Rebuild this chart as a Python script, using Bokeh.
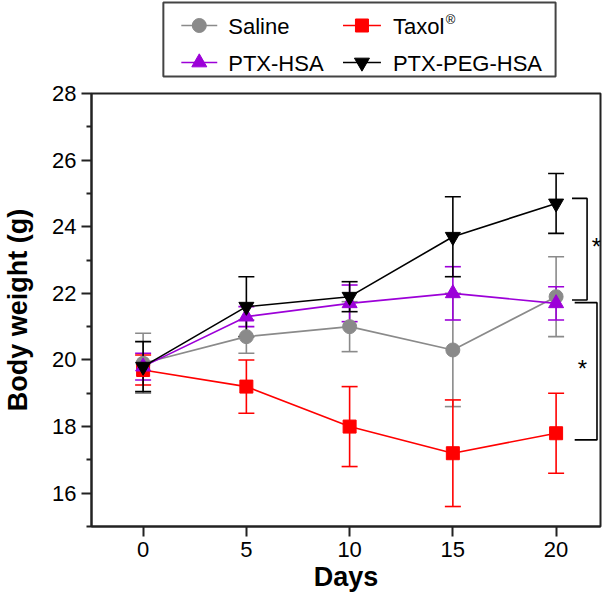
from bokeh.plotting import figure
from bokeh.layouts import column
from bokeh.models import ColumnDataSource, Whisker, TeeHead, FixedTicker, Range1d
from bokeh.core.properties import value
from bokeh.embed import file_html
from bokeh.resources import INLINE

# ---- data ----
days = [0, 5, 10, 15, 20]
saline = [19.9, 20.7, 21.0, 20.3, 21.9]
saline_err = [0.9, 0.5, 0.75, 1.7, 1.2]
taxol = [19.7, 19.2, 18.0, 17.2, 17.8]
taxol_err = [0.45, 0.8, 1.2, 1.6, 1.2]
ptx_hsa = [19.8, 21.3, 21.7, 22.0, 21.7]
ptx_hsa_err = [0.4, 0.3, 0.55, 0.8, 0.5]
ptx_peg_hsa = [19.8, 21.6, 21.9, 23.7, 24.7]
ptx_peg_hsa_err = [0.75, 0.9, 0.45, 1.2, 0.9]

series_names = ["Saline", "Taxol", "PTX-HSA", "PTX-PEG-HSA"]
y_ticks = [16, 18, 20, 22, 24, 26, 28]
y_minor = [15, 17, 19, 21, 23, 25, 27]
x_ticks = [0, 5, 10, 15, 20]

# significance brackets (data units): x_left, x_right, y_top, y_bottom, star_x, star_y
brackets = [
    (20.77, 21.5, 24.85, 21.8, 21.95, 23.4),
    (20.9, 21.98, 21.72, 17.6, 21.27, 19.75),
]

FONT = "Liberation Sans"
W = 603
LH = 78
BL, BR = 90, 3

p = figure(width=W, height=516, output_backend="svg", toolbar_location=None,
           x_range=Range1d(-2.5, 22.15), y_range=Range1d(15, 28),
           min_border_left=BL, min_border_right=BR, min_border_top=15, min_border_bottom=66)
p.grid.visible = False
p.outline_line_color = "#222222"
p.outline_line_width = 2
p.background_fill_color = "white"
p.border_fill_color = "white"

for ax in (p.xaxis[0], p.yaxis[0]):
    ax.axis_line_width = 2
    ax.axis_line_color = "#222222"
    ax.major_tick_line_width = 2
    ax.major_tick_line_color = "#222222"
    ax.minor_tick_line_width = 2
    ax.minor_tick_line_color = "#222222"
    ax.major_tick_in = 0
    ax.major_tick_out = 10
    ax.minor_tick_in = 0
    ax.minor_tick_out = 5
    ax.major_label_text_font = FONT
    ax.major_label_text_font_size = "22px"
    ax.major_label_text_color = "black"
    ax.axis_label_text_font = FONT
    ax.axis_label_text_font_size = "27px"
    ax.axis_label_text_font_style = "bold"
    ax.axis_label_text_color = "black"

p.xaxis.ticker = FixedTicker(ticks=x_ticks, minor_ticks=[])
p.yaxis.ticker = FixedTicker(ticks=y_ticks, minor_ticks=y_minor)
p.xaxis.axis_label = "Days"
p.yaxis.axis_label = "Body weight (g)"
p.xaxis.major_label_standoff = 5
p.yaxis.major_label_standoff = 5
p.yaxis.axis_label_standoff = 16
p.xaxis.axis_label_standoff = 2

specs = [
    (saline, saline_err, "#8a8a8a", "circle"),
    (taxol, taxol_err, "#ff0000", "square"),
    (ptx_hsa, ptx_hsa_err, "#9c00d8", "triangle"),
    (ptx_peg_hsa, ptx_peg_hsa_err, "#000000", "inverted_triangle"),
]

def marker_size(marker):
    return 14 if marker == "circle" else (13 if marker == "square" else 15)

for vals, errs, color, marker in specs:
    src = ColumnDataSource(dict(x=days, y=vals,
                                upper=[v + e for v, e in zip(vals, errs)],
                                lower=[v - e for v, e in zip(vals, errs)]))
    w = Whisker(source=src, base="x", upper="upper", lower="lower",
                line_color=color, line_width=1.6,
                upper_head=TeeHead(size=16, line_color=color, line_width=1.6),
                lower_head=TeeHead(size=16, line_color=color, line_width=1.6))
    p.add_layout(w)
    p.line("x", "y", source=src, line_color=color, line_width=1.6)
    p.scatter("x", "y", source=src, marker=marker, size=marker_size(marker),
              fill_color=color, line_color=color)

for (xl, xr, yt, yb, sx, sy) in brackets:
    p.line([xl, xr, xr, xl], [yt, yt, yb, yb], line_color="black", line_width=1.6)
    p.text([sx], [sy], text=["*"], text_font=value(FONT), text_font_size="24px",
           text_align="center", text_baseline="middle", text_color="black")

# ---- legend: a small pixel-mapped figure above the plot (frame aligned with plot) ----
lf = figure(width=W, height=LH, output_backend="svg", toolbar_location=None,
            x_range=Range1d(BL, W - BR), y_range=Range1d(LH, 0),
            x_axis_type=None, y_axis_type=None,
            min_border_left=BL, min_border_right=BR, min_border_top=0, min_border_bottom=0)
lf.grid.visible = False
lf.outline_line_color = None
lf.background_fill_color = "white"
lf.border_fill_color = "white"

lf.quad(left=[162], right=[555], top=[2], bottom=[76], fill_color=None,
        line_color="#444444", line_width=2)
row_y = [25, 25, 62, 62]
glyph_x0 = [180, 342, 180, 342]
glyph_x1 = [216, 380, 216, 380]
text_x = [227, 392, 227, 392]
for i, (vals, errs, color, marker) in enumerate(specs):
    lf.line([glyph_x0[i], glyph_x1[i]], [row_y[i], row_y[i]], line_color=color, line_width=1.6)
    lf.scatter([(glyph_x0[i] + glyph_x1[i]) / 2], [row_y[i]], marker=marker,
               size=marker_size(marker), fill_color=color, line_color=color)
    lf.text([text_x[i]], [row_y[i] + 1], text=[series_names[i]], text_font=value(FONT),
            text_font_size="22px", text_baseline="middle", text_align="left",
            text_color="black")
# superscript registered mark after "Taxol"
lf.text([text_x[1] + 53], [row_y[1] - 6], text=["\u00ae"], text_font=value(FONT),
        text_font_size="13px", text_baseline="middle", text_align="left", text_color="black")

layout = column(lf, p, spacing=0)
open("out.html", "w").write(file_html(layout, INLINE))
